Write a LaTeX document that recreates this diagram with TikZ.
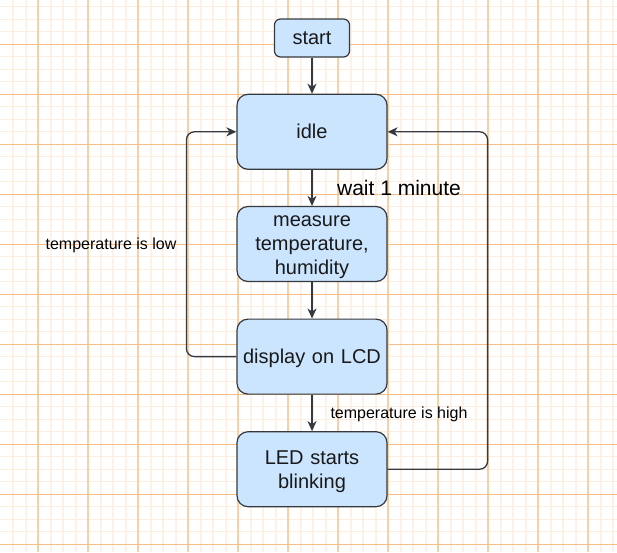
\documentclass[tikz,border=0pt]{standalone}
\usepackage{fontspec}
\setmainfont{Liberation Sans}
\usetikzlibrary{arrows.meta}
\definecolor{gridmajor}{HTML}{F5BE88}
\definecolor{gridminor}{HTML}{FDEDDF}
\definecolor{gridmajorv}{HTML}{F8CFA6}
\definecolor{gridminorv}{HTML}{FEF2E8}
\definecolor{boxfill}{HTML}{CCE5FF}
\definecolor{boxline}{HTML}{36393D}
\newcommand{\lnstrut}{\rule[-5.07pt]{0pt}{24pt}}
\tikzset{
  flowbox/.style={draw=boxline, fill=boxfill, line width=1.2pt, rounded corners=11pt,
    minimum width=150pt, minimum height=75pt, text width=140pt, align=center,
    inner sep=0pt, font=\fontsize{20}{24}\selectfont, text=black!90},
  startbox/.style={flowbox, rounded corners=6pt, minimum width=75pt, minimum height=38pt, text width=70pt},
  flow/.style={draw=boxline, line width=1.3pt, -{Stealth[length=10pt,width=9pt,inset=3pt]}},
  smalllabel/.style={font=\fontsize{16}{19}\selectfont, text=black, inner sep=0pt},
  biglabel/.style={font=\fontsize{21}{25}\selectfont, text=black, inner sep=0pt}
}
\begin{document}
\begin{tikzpicture}[x=1pt,y=-1pt]
\useasboundingbox (0,0) rectangle (617,552);
\fill[white] (0,0) rectangle (617,552);
% minor grid
\foreach \i in {0,...,49} {
  \fill[gridminorv] ({12+12.5*\i},0) rectangle ({14+12.5*\i},552);
}
\foreach \j in {0,...,44} {
  \fill[gridminor] (0,{6+12.5*\j}) rectangle (617,{7+12.5*\j});
}
% major grid
\foreach \i in {0,...,11} {
  \fill[gridmajorv] ({36.5+50*\i},0) rectangle ({38.5+50*\i},552);
}
\foreach \j in {0,...,10} {
  \fill[gridmajor] (0,{43.5+50*\j}) rectangle (617,{44.5+50*\j});
}
% nodes
\node[startbox] (start) at (312,38) {\lnstrut start};
\node[flowbox] (idle) at (312,131.8) {\lnstrut idle};
\node[flowbox] (measure) at (312,244) {\lnstrut measure\\\lnstrut temperature,\\\lnstrut humidity};
\node[flowbox] (display) at (312,356.6) {\lnstrut display on LCD};
\node[flowbox] (led) at (312,469.2) {\lnstrut LED starts\\\lnstrut blinking};
% labels
\node[biglabel] (lwait) at (399,188) {wait 1 minute};
\node[smalllabel] (llow) at (111,245.5) {temperature is low};
\node[smalllabel] (lhigh) at (399,414) {temperature is high};
% connectors
\draw[flow] (start) -- (idle);
\draw[flow] (idle) -- (measure);
\draw[flow] (measure) -- (display);
\draw[flow] (display) -- (led);
\draw[flow, rounded corners=8pt] (display.west) -- ([xshift=-50pt]display.west) |- (idle.west);
\draw[flow, rounded corners=8pt] (led.east) -- ([xshift=100pt]led.east) |- (idle.east);
\end{tikzpicture}
\end{document}
